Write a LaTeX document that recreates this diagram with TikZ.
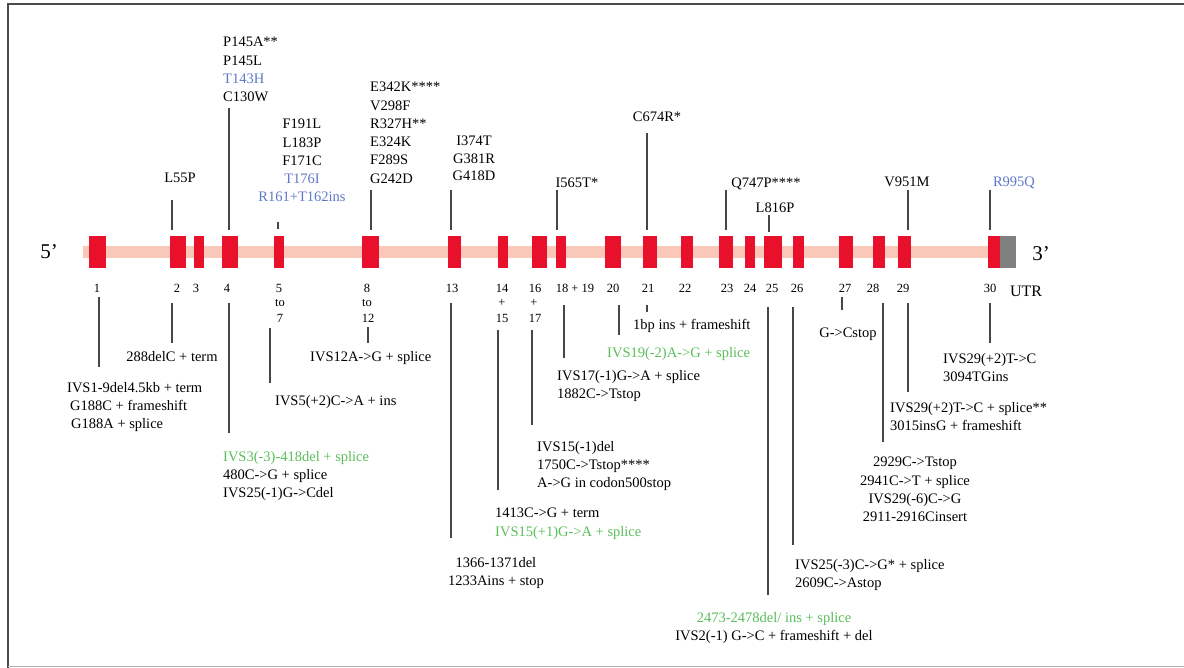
\documentclass[tikz,border=0pt]{standalone}
\usepackage{fontspec}
\setmainfont{Liberation Serif}
\definecolor{exred}{RGB}{232,16,42}
\definecolor{bandpink}{RGB}{250,200,184}
\definecolor{utrgray}{RGB}{128,128,128}
\definecolor{labblue}{RGB}{95,120,200}
\definecolor{labgreen}{RGB}{90,190,90}
\definecolor{linegray}{RGB}{70,70,70}
\begin{document}
\begin{tikzpicture}[x=1pt,y=-1pt,
  exon/.style={fill=exred, draw=none, minimum height=32pt, inner sep=0pt},
  lab/.style={font=\fontsize{14.5}{18.3}\selectfont, inner sep=0pt, anchor=north, execute at begin node={\rule{0pt}{11pt}}},
  labl/.style={lab, align=left, anchor=north west},
  labc/.style={lab, align=center, anchor=north},
  num/.style={font=\fontsize{12.5}{15}\selectfont, inner sep=0pt},
  conn/.style={draw=linegray, line width=1.3pt}]
\useasboundingbox (0,0) rectangle (1184,668);
\fill[white] (0,0) rectangle (1184,668);
% frame
\draw[black!70, line width=2pt] (8,668) -- (8,4) -- (1184,4);
\draw[black!30, line width=1pt] (8,666.5) -- (1184,666.5);
% backbone
\node[fill=bandpink, minimum width=905pt, minimum height=12pt, inner sep=0pt, anchor=west] (band) at (83,252) {};
\foreach \n/\c/\w in {1/97.5/17, 2/178/16, 3/199/10, 4/230/16, 5/279/10, 8/370.5/17, 13/454.5/13, 14/503/10, 16/539.5/15, 18/561/10, 20/613/16, 21/650/14, 22/687/12, 23/726/14, 24/750/10, 25/773/18, 26/798.5/11, 27/846/14, 28/879/12, 29/904.5/13, 30/994/12}
  \node[exon, minimum width=\w pt] (e\n) at (\c,252) {};
\node[exon, fill=utrgray, minimum width=16pt] (utr) at (1008,252) {};
\node[font=\fontsize{21}{24}\selectfont, inner sep=0pt] (five) at (49,252) {5'};
\node[font=\fontsize{21}{24}\selectfont, inner sep=0pt] (three) at (1041,254) {3'};
\node[font=\fontsize{16}{18}\selectfont, inner sep=0pt] (utrlab) at (1026,291) {UTR};
% exon numbers
\foreach \t/\x in {1/97, 2/177, 3/196, 4/227, 13/452, 20/613, 21/648, 22/685, 23/727, 24/750, 25/772, 26/797, 27/845, 28/873, 29/903, 30/990}
  \node[num] (n\t) at (\x,288) {\t};
\node[num] (n5) at (279,288) {5};
\node[num] (n5b) at (280,303) {to};
\node[num] (n5c) at (280,318) {7};
\node[num] (n8) at (367,288) {8};
\node[num] (n8b) at (367,303) {to};
\node[num] (n8c) at (368,318) {12};
\node[num] (n14) at (502,288) {14};
\node[num] (n14b) at (502,303) {+};
\node[num] (n14c) at (502,318) {15};
\node[num] (n16) at (535,288) {16};
\node[num] (n16b) at (534,303) {+};
\node[num] (n16c) at (535,318) {17};
\node[num] (n18) at (575,288) {18 + 19};
% top labels
\node[labc] (t2) at (180,171) {L55P};
\node[labl] (t4) at (223,37) {P145A**\\P145L\\\textcolor{labblue}{T143H}\\C130W};
\node[labc] (t5) at (302,119) {F191L\\L183P\\F171C\\\textcolor{labblue}{T176I}\\\textcolor{labblue}{R161+T162ins}};
\node[labl] (t8) at (370,82) {E342K****\\V298F\\R327H**\\E324K\\F289S\\G242D};
\node[labc, font=\fontsize{14.5}{17.5}\selectfont] (t13) at (474,136) {I374T\\G381R\\G418D};
\node[labc] (t18) at (577,176) {I565T*};
\node[labc] (t21) at (657,110) {C674R*};
\node[labc] (t23) at (766,176) {Q747P****};
\node[labc] (t25) at (775,201) {L816P};
\node[labc] (t29) at (907,175) {V951M};
\node[labc] (t30) at (1014,175) {\textcolor{labblue}{R995Q}};
% top connectors
\foreach \k/\x/\ya/\yb in {2/172/200/230, 4/229/108/230, 5/278/222/229, 8/371/190/230, 13/451/190/230, 18/557/190/230, 21/647/133/230, 23/726/190/230, 25/769/215/232, 29/908/190/230, 30/990/190/230} {
  \coordinate (ta\k) at (\x,\ya);
  \coordinate (tb\k) at (\x,\yb);
  \draw[conn] (ta\k) -- (tb\k);
}
% bottom connectors
\foreach \k/\x/\ya/\yb in {1/99/297/367, 2/172/303/343, 4/229/303/433, 5/270/328/383, 8/368/327/343, 13/451/303/538, 14/498/330/490, 16/532/330/425, 18/564/305/358, 20/619/305/335, 21/647/305/312, 25/768/307/595, 26/793/307/545, 27/842/297/310, 28/883/303/442, 29/908/303/392, 30/990/303/343} {
  \coordinate (ba\k) at (\x,\ya);
  \coordinate (bb\k) at (\x,\yb);
  \draw[conn] (ba\k) -- (bb\k);
}
% bottom labels
\node[labl] (b1) at (67,382) {IVS1-9del4.5kb + term\\\hspace*{3pt}G188C + frameshift\\\hspace*{4pt}G188A + splice};
\node[labc] (b2) at (172,350) {288delC + term};
\node[labl] (b4) at (223,451) {\textcolor{labgreen}{IVS3(-3)-418del + splice}\\480C->G + splice\\IVS25(-1)G->Cdel};
\node[labl] (b5) at (275,394) {IVS5(+2)C->A + ins};
\node[labl] (b8) at (310,350) {IVS12A->G + splice};
\node[labc] (b13) at (496,557) {1366-1371del\\1233Ains + stop};
\node[labl] (b14) at (495,508) {1413C->G + term\\\textcolor{labgreen}{IVS15(+1)G->A + splice}};
\node[labl] (b16) at (537,441) {IVS15(-1)del\\1750C->Tstop****\\A->G in codon500stop};
\node[labl] (b18) at (557,370) {IVS17(-1)G->A + splice\\1882C->Tstop};
\node[labl] (b20) at (607,346) {\textcolor{labgreen}{IVS19(-2)A->G + splice}};
\node[labl] (b21) at (633,318) {1bp ins + frameshift};
\node[labc] (b25) at (774,612) {\textcolor{labgreen}{2473-2478del/ ins + splice}\\IVS2(-1) G->C + frameshift + del};
\node[labl] (b26) at (795,559) {IVS25(-3)C->G* + splice\\2609C->Astop};
\node[labc] (b27) at (848,326) {G->Cstop};
\node[labc] (b28) at (915,457) {2929C->Tstop\\2941C->T + splice\\IVS29(-6)C->G\\2911-2916Cinsert};
\node[labl] (b29) at (890,402) {IVS29(+2)T->C + splice**\\3015insG + frameshift};
\node[labl] (b30) at (943,353) {IVS29(+2)T->C\\3094TGins};
\end{tikzpicture}
\end{document}
